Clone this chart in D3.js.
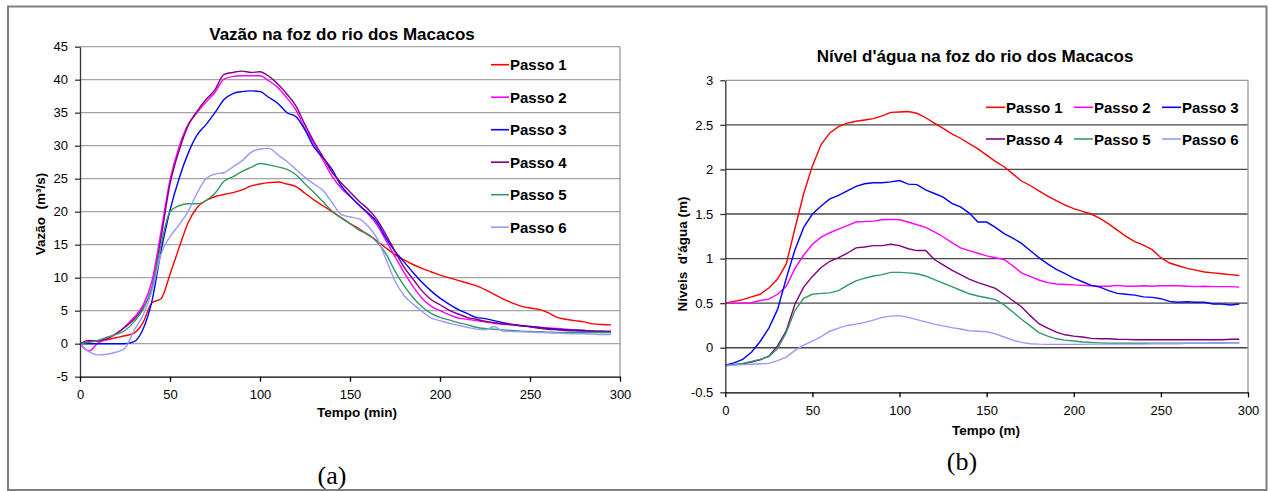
<!DOCTYPE html>
<html lang="pt">
<head>
<meta charset="UTF-8">
<title>Vazão e nível na foz do rio dos Macacos</title>
<script src="https://d3js.org/d3.v7.min.js"></script>
<style>
  body { margin: 0; background: #fff; }
  svg { display: block; font-family: "Liberation Sans", Arial, sans-serif; }
  .tick text { font-size: 13px; fill: #000; }
  .title { font-size: 17px; font-weight: bold; text-anchor: middle; }
  .axis-title { font-size: 13.5px; font-weight: bold; text-anchor: middle; }
  .legend text { font-size: 15px; font-weight: bold; }
  .caption { font-family: "Liberation Serif", "Times New Roman", serif; font-size: 26px; text-anchor: middle; }
</style>
</head>
<body>
<svg width="1269" height="491"></svg>
<script>
// tempo (min)
const tempo = [0,5,10,15,20,25,30,35,40,45,50,55,60,65,70,75,80,85,90,95,100,105,110,115,120,125,130,135,140,145,
  150,155,160,165,170,175,180,185,190,195,200,205,210,215,220,225,230,235,240,245,250,255,260,265,270,275,280,285,290,295];

const passos = ["Passo 1", "Passo 2", "Passo 3", "Passo 4", "Passo 5", "Passo 6"];
const cores = ["#ff0000", "#ff00ff", "#0000ff", "#800080", "#339966", "#9999ff"];

// vazão (m³/s)
const vazao1 = [0,0.3,0.4,0.6,0.9,1.2,1.6,3.2,6.2,6.8, 10.5,14.5,18.3,20.6,21.7,22.3,22.6,22.9,23.3,23.9,
  24.2,24.4,24.5,24.2,23.8,22.8,21.8,20.9,20.0,19.1, 18.2,17.4,16.5,15.6,14.5,13.5,12.7,12.0,11.4,10.9,
  10.4,10.0,9.6,9.2,8.8,8.2,7.5,6.8,6.2,5.7, 5.4,5.2,4.7,4.0,3.7,3.5,3.3,3.0,2.9,2.85];
const vazao2 = [0,-1.1,0.1,0.7,1.5,2.6,4.0,5.8,9.5,17.0, 24.8,29.8,33.2,35.0,36.6,38.1,40.1,40.5,40.6,40.6,
  40.6,39.8,38.8,37.2,35.4,32.6,30.3,27.8,25.4,23.6, 22.3,21.0,19.7,18.0,15.6,13.2,10.8,8.7,6.9,5.7,
  5.0,4.4,3.9,3.7,3.5,3.3,3.1,2.95,2.85,2.7, 2.6,2.5,2.4,2.3,2.2,2.1,2.0,1.9,1.85,1.8];
const vazao3 = [0,0,0,0,0,0,0.3,2.2,6.5,14.0, 20.2,25.0,28.8,31.6,33.2,35.0,37.0,37.9,38.2,38.3,
  38.2,37.3,36.4,35.0,34.4,32.4,29.8,28.2,26.4,24.0, 22.4,21.0,19.8,18.4,16.0,14.0,12.4,10.8,9.3,8.0,
  6.9,6.0,5.2,4.6,4.0,3.8,3.5,3.2,2.9,2.75, 2.6,2.45,2.3,2.2,2.1,2.05,2.0,1.9,1.85,1.8];
const vazao4 = [0,0.5,0.4,0.8,1.5,2.5,3.7,5.4,8.5,16.0, 24.2,29.2,33.0,35.2,37.0,38.5,40.8,41.1,41.3,41.1,
  41.2,40.5,39.3,37.8,36.0,33.2,30.6,28.3,26.0,24.4, 23.0,21.6,20.4,18.8,16.5,14.0,11.6,9.8,8.0,6.7,
  5.9,5.1,4.5,4.0,3.7,3.4,3.2,3.0,2.9,2.7, 2.55,2.35,2.2,2.1,2.0,1.95,1.9,1.9,1.9,1.9];
const vazao5 = [0,0.2,0.5,1.0,1.4,2.0,3.3,5.2,8.5,15.0, 20.0,20.9,21.2,21.2,21.7,22.8,24.6,25.3,26.1,26.7,
  27.3,27.1,26.8,26.4,25.6,24.2,22.9,21.5,20.1,19.1, 18.2,17.2,16.6,15.4,13.6,11.0,8.8,7.0,5.6,4.6,
  4.0,3.6,3.2,2.9,2.5,2.3,2.2,2.1,2.0,1.9, 1.85,1.8,1.75,1.7,1.7,1.7,1.7,1.7,1.7,1.7];
const vazao6 = [0,-1.2,-1.7,-1.6,-1.3,-0.7,2.0,4.3,8.0,13.6, 16.2,18.0,20.0,22.8,25.0,25.7,25.9,26.8,27.7,29.0,
  29.5,29.6,28.6,27.6,26.4,25.2,24.2,23.2,21.4,19.6, 19.2,18.9,17.8,16.0,12.8,9.5,7.3,6.0,4.9,3.9,
  3.5,3.1,2.8,2.5,2.2,2.1,2.6,1.9,1.85,1.8, 1.75,1.7,1.65,1.6,1.55,1.5,1.5,1.45,1.4,1.4];

// nível d'água (m)
const nivel1 = [0.50,0.52,0.54,0.57,0.60,0.67,0.77,0.94,1.34,1.73, 2.04,2.28,2.41,2.48,2.52,2.54,2.555,2.57,2.60,2.64,
  2.645,2.65,2.63,2.58,2.52,2.46,2.40,2.35,2.29,2.23, 2.16,2.09,2.03,1.95,1.87,1.82,1.76,1.70,1.65,1.60,
  1.56,1.53,1.50,1.45,1.39,1.32,1.25,1.19,1.15,1.10, 1.01,0.95,0.92,0.89,0.87,0.85,0.84,0.83,0.82,0.81];
const nivel2 = [0.50,0.50,0.50,0.505,0.53,0.545,0.60,0.69,0.89,1.04, 1.16,1.24,1.29,1.33,1.37,1.41,1.415,1.42,1.435,1.44,
  1.435,1.41,1.38,1.35,1.30,1.245,1.18,1.12,1.09,1.06, 1.03,1.01,0.99,0.92,0.84,0.80,0.76,0.73,0.715,0.71,
  0.705,0.70,0.695,0.69,0.69,0.70,0.69,0.69,0.695,0.69, 0.695,0.695,0.695,0.69,0.685,0.69,0.685,0.685,0.685,0.68];
const nivel3 = [-0.195,-0.17,-0.13,-0.05,0.07,0.22,0.43,0.78,1.10,1.35, 1.50,1.59,1.67,1.71,1.76,1.81,1.84,1.85,1.85,1.86,
  1.875,1.835,1.83,1.77,1.73,1.69,1.62,1.58,1.51,1.41, 1.41,1.35,1.28,1.23,1.17,1.09,1.01,0.94,0.88,0.83,
  0.78,0.74,0.70,0.68,0.64,0.61,0.60,0.59,0.57,0.565, 0.55,0.52,0.51,0.515,0.51,0.51,0.49,0.49,0.48,0.49];
const nivel4 = [-0.195,-0.19,-0.18,-0.16,-0.135,-0.095,0.02,0.19,0.49,0.68, 0.80,0.90,0.97,1.01,1.06,1.12,1.13,1.145,1.145,1.16,
  1.145,1.11,1.09,1.09,0.99,0.93,0.87,0.82,0.77,0.73, 0.70,0.665,0.60,0.53,0.46,0.36,0.27,0.22,0.175,0.145,
  0.13,0.12,0.105,0.10,0.10,0.095,0.094,0.09,0.09,0.09, 0.09,0.09,0.09,0.09,0.09,0.09,0.09,0.09,0.095,0.095];
const nivel5 = [-0.195,-0.19,-0.175,-0.155,-0.13,-0.10,-0.01,0.17,0.42,0.555, 0.60,0.61,0.615,0.64,0.70,0.75,0.78,0.805,0.82,0.845,
  0.845,0.84,0.83,0.805,0.765,0.725,0.685,0.645,0.605,0.58, 0.56,0.54,0.48,0.40,0.32,0.245,0.17,0.13,0.10,0.085,
  0.075,0.065,0.06,0.055,0.05,0.05,0.05,0.05,0.05,0.05, 0.05,0.05,0.05,0.05,0.05,0.05,0.055,0.055,0.055,0.055];
const nivel6 = [-0.205,-0.195,-0.19,-0.185,-0.18,-0.175,-0.145,-0.105,-0.03,0.03, 0.075,0.125,0.185,0.22,0.25,0.265,0.285,0.31,0.34,0.355,
  0.36,0.34,0.315,0.29,0.265,0.245,0.225,0.21,0.19,0.185, 0.18,0.155,0.12,0.085,0.06,0.045,0.04,0.038,0.038,0.038,
  0.038,0.038,0.04,0.04,0.04,0.04,0.04,0.04,0.04,0.045, 0.045,0.045,0.045,0.05,0.05,0.05,0.05,0.05,0.055,0.055];

const xTicks = [0, 50, 100, 150, 200, 250, 300];
const vazaoTicks = [-5, 0, 5, 10, 15, 20, 25, 30, 35, 40, 45];
const nivelTicks = [-0.5, 0, 0.5, 1, 1.5, 2, 2.5, 3];

const svg = d3.select("svg");
svg.append("rect").attr("width", 1269).attr("height", 491).attr("fill", "#fff");

// moldura externa
svg.append("rect")
  .attr("x", 8).attr("y", 6.5).attr("width", 1258.5).attr("height", 483.5)
  .attr("fill", "none").attr("stroke", "#7f7f7f").attr("stroke-width", 2);

function drawChart(opt) {
  const x = d3.scaleLinear().domain([0, 300]).range([opt.left, opt.right]);
  const y = d3.scaleLinear().domain(opt.yDomain).range([opt.bottom, opt.top]);
  const g = svg.append("g");

  // linhas de grade
  g.selectAll(".grid").data(opt.yTicks.slice(1)).enter()
    .append("line")
    .attr("x1", opt.left).attr("x2", opt.right)
    .attr("y1", d => y(d)).attr("y2", d => y(d))
    .attr("stroke", (d, i) => i === opt.yTicks.length - 2 ? opt.topColor : opt.gridColor)
    .attr("stroke-width", 1.3);

  // borda direita
  g.append("line")
    .attr("x1", opt.right).attr("x2", opt.right)
    .attr("y1", opt.top).attr("y2", opt.bottom)
    .attr("stroke", "#9a9a9a").attr("stroke-width", 1.3);

  // séries
  const line = d3.line()
    .x((d, i) => x(tempo[i]))
    .y(d => y(d))
    .curve(opt.curve);

  g.selectAll(".serie").data(opt.series).enter()
    .append("path")
    .attr("fill", "none")
    .attr("stroke", (d, i) => cores[i])
    .attr("stroke-width", 1.4)
    .attr("d", d => line(d));

  // eixos
  const yAxis = g.append("g")
    .attr("transform", `translate(${opt.left},0)`)
    .call(d3.axisLeft(y).tickValues(opt.yTicks).tickSize(5).tickSizeOuter(0).tickPadding(7).tickFormat(d => String(d)));
  yAxis.selectAll("line, path").attr("stroke", "#333").attr("stroke-width", 1.3);

  const xAxis = g.append("g")
    .attr("transform", `translate(0,${opt.bottom})`)
    .call(d3.axisBottom(x).tickValues(xTicks).tickSize(5).tickSizeOuter(0).tickPadding(8).tickFormat(d => String(d)));
  xAxis.selectAll("line, path").attr("stroke", "#000").attr("stroke-width", 1.3);

  // títulos
  g.append("text").attr("class", "title")
    .attr("x", opt.titleX).attr("y", opt.titleY).text(opt.title);
  g.append("text").attr("class", "axis-title")
    .attr("x", opt.xTitleX).attr("y", opt.xTitleY).text(opt.xTitle);
  g.append("text").attr("class", "axis-title")
    .attr("transform", `translate(${opt.yTitleX},${opt.yTitleY}) rotate(-90)`)
    .attr("xml:space", "preserve")
    .text(opt.yTitle);

  // legenda
  const leg = g.append("g").attr("class", "legend")
    .selectAll("g").data(passos).enter()
    .append("g")
    .attr("transform", (d, i) => `translate(${opt.legendPos(i)[0]},${opt.legendPos(i)[1]})`);
  leg.append("line")
    .attr("x1", 0).attr("x2", opt.legendLine)
    .attr("stroke", (d, i) => cores[i]).attr("stroke-width", 1.6);
  leg.append("text")
    .attr("x", opt.legendLine + 1).attr("y", 5.5)
    .text(d => d);

  svg.append("text").attr("class", "caption")
    .attr("x", opt.captionX).attr("y", opt.captionY).text(opt.caption);
}

drawChart({
  left: 80, right: 620, top: 46.7, bottom: 376.7,
  yDomain: [-5, 45], yTicks: vazaoTicks,
  series: [vazao1, vazao2, vazao3, vazao4, vazao5, vazao6],
  curve: d3.curveMonotoneX,
  gridColor: "#a3a3a3", topColor: "#a3a3a3",
  title: "Vazão na foz do rio dos Macacos", titleX: 342, titleY: 40,
  xTitle: "Tempo (min)", xTitleX: 357, xTitleY: 417,
  yTitle: "Vazão  (m³/s)", yTitleX: 45, yTitleY: 214,
  legendLine: 18,
  legendPos: i => [491, 64.7 + i * 32.5],
  caption: "(a)", captionX: 332, captionY: 484
});

drawChart({
  left: 725.3, right: 1248, top: 80.3, bottom: 392.3,
  yDomain: [-0.5, 3], yTicks: nivelTicks,
  series: [nivel1, nivel2, nivel3, nivel4, nivel5, nivel6],
  curve: d3.curveLinear,
  gridColor: "#474747", topColor: "#9a9a9a",
  title: "Nível d'água na foz do rio dos Macacos", titleX: 975, titleY: 62,
  xTitle: "Tempo (m)", xTitleX: 986, xTitleY: 435,
  yTitle: "Níveis  d'água (m)", yTitleX: 687, yTitleY: 254,
  legendLine: 19,
  legendPos: i => [986 + (i % 3) * 88, 107.3 + Math.floor(i / 3) * 31.7],
  caption: "(b)", captionX: 962, captionY: 470
});
</script>
</body>
</html>
